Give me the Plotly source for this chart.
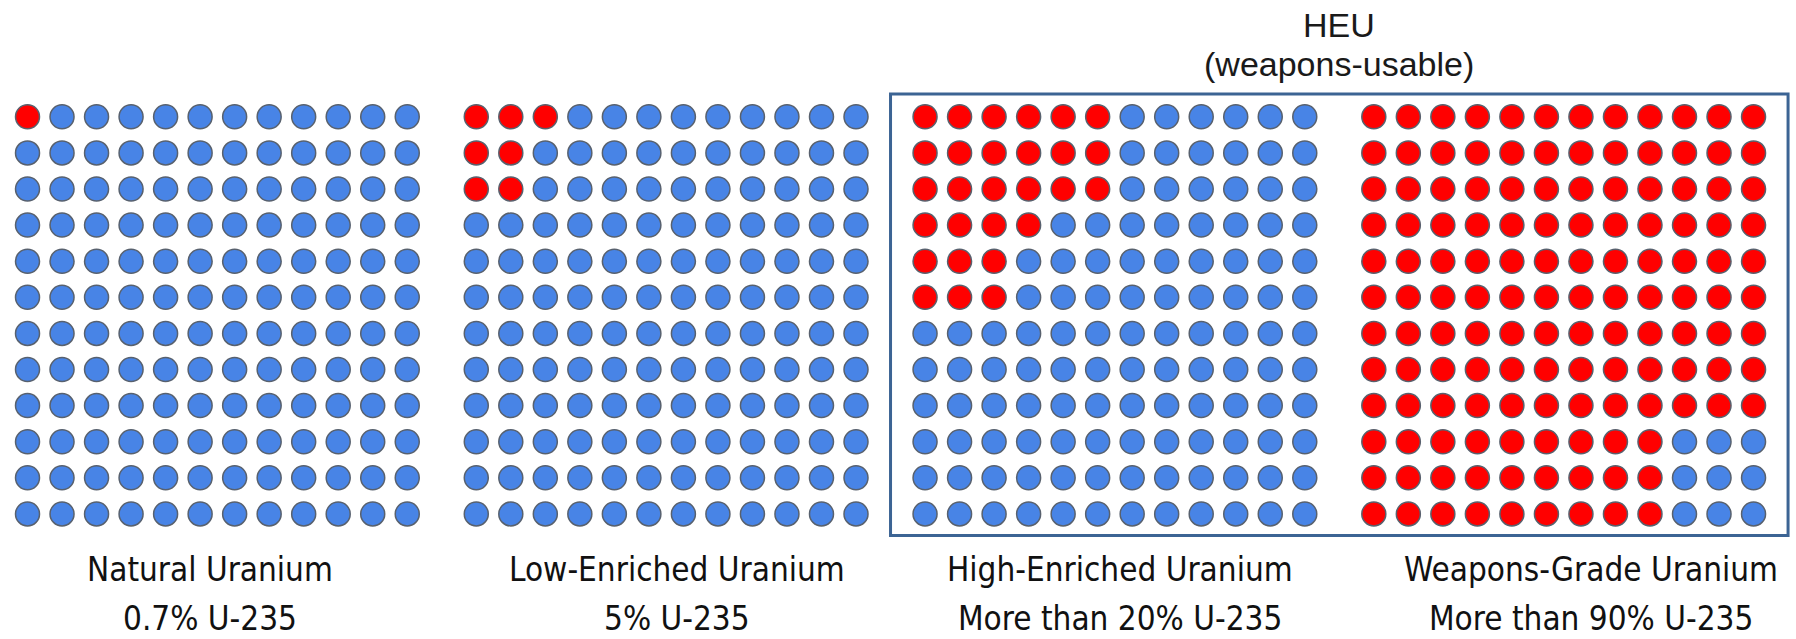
import plotly.graph_objects as go

# Four 12x12 dot grids: each dot is 1/144 of the uranium; red = U-235, blue = U-238
grade_names = ["Natural Uranium", "Low-Enriched Uranium",
               "High-Enriched Uranium", "Weapons-Grade Uranium"]
grade_levels = ["0.7% U-235", "5% U-235",
                "More than 20% U-235", "More than 90% U-235"]

# number of red dots in each row (top row first), filled from the left
natural_red = [1, 0, 0, 0, 0, 0, 0, 0, 0, 0, 0, 0]
leu_red = [3, 2, 2, 0, 0, 0, 0, 0, 0, 0, 0, 0]
heu_red = [6, 6, 6, 4, 3, 3, 0, 0, 0, 0, 0, 0]
wgu_red = [12, 12, 12, 12, 12, 12, 12, 12, 12, 9, 9, 9]

heu_title = "HEU"
heu_subtitle = "(weapons-usable)"

grids = [natural_red, leu_red, heu_red, wgu_red]

N = 12          # dots per row / column
STEP = 13       # column units between the left edges of neighbouring grids

# horizontal nudge of each caption from its grid centre (column units)
CAPTION_SHIFT = [-0.2, 0.3, 0.15, 0.8]

RED = "#FF0000"
BLUE = "#4884E6"
EDGE = "#58616E"

fig = go.Figure()

for g, reds in enumerate(grids):
    rx, ry, bx, by = [], [], [], []
    for row, n_red in enumerate(reds):
        for col in range(N):
            x = g * STEP + col
            if col < n_red:
                rx.append(x)
                ry.append(row)
            else:
                bx.append(x)
                by.append(row)
    for xs, ys, color in ((bx, by, BLUE), (rx, ry, RED)):
        fig.add_trace(go.Scatter(
            x=xs, y=ys, mode="markers",
            marker=dict(size=24, color=color,
                        line=dict(color=EDGE, width=1.5)),
            hoverinfo="skip", showlegend=False,
        ))

# frame around the two weapons-usable grades
fig.add_shape(type="rect", xref="x", yref="y",
              x0=2 * STEP - 1.0, x1=3 * STEP + N - 1 + 1.0,
              y0=-0.63, y1=11.6,
              line=dict(color="#3C6494", width=3), fillcolor="rgba(0,0,0,0)")

label_font = dict(family="DejaVu Sans Condensed, Liberation Sans, Arial",
                  size=33, color="#111111")
for g, (name, level) in enumerate(zip(grade_names, grade_levels)):
    cx = g * STEP + (N - 1) / 2 + CAPTION_SHIFT[g]
    fig.add_annotation(x=cx, y=12.55, text=name, showarrow=False,
                       xref="x", yref="y", font=label_font,
                       xanchor="center", yanchor="middle")
    fig.add_annotation(x=cx, y=13.9, text=level, showarrow=False,
                       xref="x", yref="y", font=label_font,
                       xanchor="center", yanchor="middle")

title_font = dict(family="Liberation Sans, Arial", size=34, color="#1a1a1a")
heu_cx = (2 * STEP + N - 1 + 3 * STEP) / 2
fig.add_annotation(x=heu_cx, y=-2.55, text=heu_title, showarrow=False,
                   xref="x", yref="y", font=title_font,
                   xanchor="center", yanchor="middle")
fig.add_annotation(x=heu_cx, y=-1.45, text=heu_subtitle, showarrow=False,
                   xref="x", yref="y", font=title_font,
                   xanchor="center", yanchor="middle")

fig.update_xaxes(range=[-0.797, 51.23], visible=False, fixedrange=True)
fig.update_yaxes(range=[14.465, -3.235], visible=False, fixedrange=True)
fig.update_layout(
    width=1796, height=639,
    margin=dict(l=0, r=0, t=0, b=0),
    paper_bgcolor="white", plot_bgcolor="white",
    hovermode=False,
)

fig.write_html("out.html", config={"displayModeBar": False})
